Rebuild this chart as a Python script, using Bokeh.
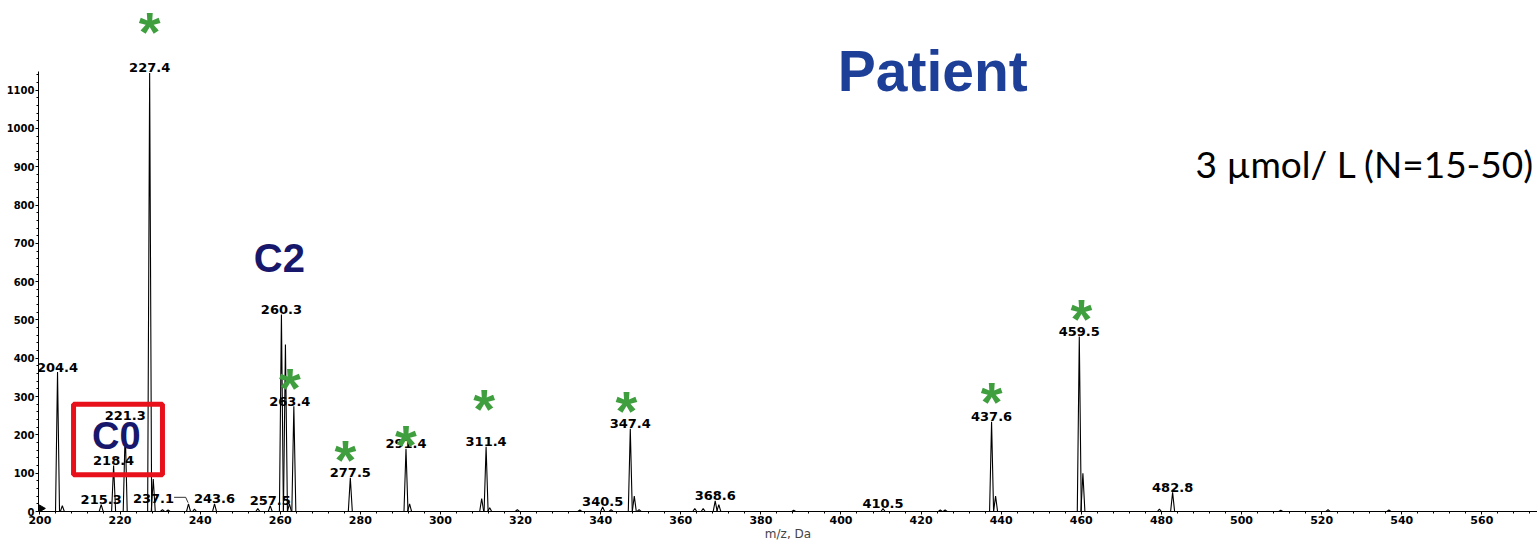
import numpy as np
from bokeh.plotting import figure
from bokeh.models import (ColumnDataSource, Label, BoxAnnotation, FixedTicker,
                          Range1d)
from bokeh.core.properties import value
from bokeh.embed import file_html
from bokeh.resources import INLINE

# ---------------- data ----------------
# centroid m/z of every visible peak and its intensity (axis tick = 100)
peak_mz = [204.4, 205.6, 215.3, 218.4, 221.3, 227.4, 228.3, 230.6, 232.0,
           237.1, 238.6, 243.6, 254.4, 257.5, 260.3, 261.3, 262.3, 263.4,
           277.5, 291.4, 292.3, 310.3, 311.4, 312.3, 319.2, 334.8, 340.5,
           342.6, 347.4, 348.4, 349.6, 363.5, 365.6, 368.6, 369.5, 388.2,
           410.5, 424.8, 426.0, 437.6, 438.6, 459.5, 460.4, 479.5, 482.8,
           509.8, 521.6, 536.8]
peak_int = [364, 15, 18, 120, 215, 1145, 85, 5, 4,
            20, 6, 20, 8, 15, 514, 436, 20, 275,
            88, 164, 20, 34, 169, 10, 5, 4, 12,
            5, 216, 40, 5, 8, 8, 28, 18, 3,
            8, 4, 4, 234, 40, 457, 100, 6, 50,
            3, 5, 4]

# peaks that carry an m/z label
labelled_mz = [204.4, 215.3, 218.4, 221.3, 227.4, 237.1, 243.6, 257.5, 260.3,
               263.4, 277.5, 291.4, 311.4, 340.5, 347.4, 368.6, 410.5, 437.6,
               459.5, 482.8]
# peaks marked with a green asterisk
starred_mz = [227.4, 263.4, 277.5, 291.4, 311.4, 347.4, 437.6, 459.5]

y_ticks = [0, 100, 200, 300, 400, 500, 600, 700, 800, 900, 1000, 1100]
x_ticks = [200, 220, 240, 260, 280, 300, 320, 340, 360, 380, 400, 420, 440,
           460, 480, 500, 520, 540, 560]

# ---------------- styling / layout ----------------
W, H = 1537, 543
X0, X1 = 199.65, 573.9
Y1 = 1334
HALF_W = 0.5                              # half base width of a peak (m/z)
label_dx = {237.1: -35, 263.4: -4}        # screen px shift of a label
label_dy = {221.3: -9}
star_gap = [50, 28, 27, 13, 47, 27, 29, 27]  # px from label to asterisk
star_dx = [0, -4, -5, 0, -2, -4, 0, 2]
GREEN = "#3f9f3f"
NAVY = "#17176b"
BLUE = "#1d3f98"

p = figure(width=W, height=H, output_backend="svg", toolbar_location=None,
           x_range=Range1d(X0, X1), y_range=Range1d(0, Y1),
           min_border_left=38, min_border_right=0, min_border_top=0,
           min_border_bottom=30)
p.outline_line_color = None
p.xgrid.visible = False
p.ygrid.visible = False
p.background_fill_color = "white"

# spectrum peaks
xs = [[m - HALF_W, m, m + HALF_W] for m in peak_mz]
ys = [[0, h, 0] for h in peak_int]
p.multi_line(xs=xs, ys=ys, line_color="black", line_width=1.1)

# peak labels
lookup = dict(zip(peak_mz, peak_int))
lab_src = ColumnDataSource(dict(
    x=labelled_mz,
    y=[lookup[m] for m in labelled_mz],
    t=[f"{m:.1f}" for m in labelled_mz],
    dx=[label_dx.get(m, 0) for m in labelled_mz],
    dy=[-5 + label_dy.get(m, 0) for m in labelled_mz],
))
p.text(x="x", y="y", text="t", x_offset="dx", y_offset="dy", source=lab_src,
       text_align="center", text_baseline="alphabetic",
       text_font=value("DejaVu Sans"), text_font_style="bold",
       text_font_size="13px", text_color="black")

# leader line of the 237.1 label
m = 237.1
h = lookup[m]
p.line(x=[m - 3.6, m - 0.7, m - 0.1], y=[h + 17, h + 17, h + 3],
       line_color="black", line_width=0.8)

# green asterisks
star_src = ColumnDataSource(dict(
    x=starred_mz,
    y=[lookup[m] for m in starred_mz],
    dy=[-22.4 - g for g in star_gap],
    dx=star_dx,
))
p.text(x="x", y="y", text=value("*"), x_offset="dx", y_offset="dy",
       source=star_src, text_align="center", text_baseline="top",
       text_font=value("Liberation Sans"), text_font_style="bold",
       text_font_size="56px", text_color=GREEN)

# origin marker
p.scatter(x=[X0 + 0.7], y=[8], marker="triangle", angle=-np.pi / 2,
          size=7, color="black")

# annotations
p.add_layout(BoxAnnotation(left=208.4, right=230.6, bottom=96, top=280,
                           fill_alpha=0, line_color="#e8101a", line_alpha=1,
                           line_width=5))
p.add_layout(Label(x=219.1, y=197, text="C0", text_align="center",
                   text_baseline="middle", text_font="Liberation Sans",
                   text_font_style="bold", text_font_size="38px",
                   text_color=NAVY))
p.add_layout(Label(x=259.8, y=662, text="C2", text_align="center",
                   text_baseline="middle", text_font="Liberation Sans",
                   text_font_style="bold", text_font_size="40px",
                   text_color=NAVY))
p.add_layout(Label(x=422.9, y=1150, text="Patient", text_align="center",
                   text_baseline="middle", text_font="Liberation Sans",
                   text_font_style="bold", text_font_size="57px",
                   text_color=BLUE))
p.add_layout(Label(x=488.5, y=909, text="3 µmol/ L (N=15-50)",
                   text_align="left", text_baseline="middle",
                   text_font="Lato", text_font_size="37px",
                   text_color="black"))

# axes
p.xaxis.ticker = FixedTicker(ticks=x_ticks,
                             minor_ticks=list(range(200, 574, 4)))
p.yaxis.ticker = FixedTicker(ticks=y_ticks,
                             minor_ticks=list(range(0, 1160, 20)))
p.yaxis.bounds = (0, 1148)
p.xaxis.axis_label = "m/z, Da"
p.xaxis.axis_label_text_font = "DejaVu Sans"
p.xaxis.axis_label_text_font_style = "normal"
p.xaxis.axis_label_text_font_size = "12px"
p.xaxis.axis_label_standoff = 0
for ax in (p.xaxis, p.yaxis):
    ax.axis_line_color = "black"
    ax.axis_line_width = 1
    ax.major_tick_line_color = "black"
    ax.minor_tick_line_color = "black"
    ax.major_tick_in = 0
    ax.minor_tick_in = 0
    ax.major_tick_out = 3
    ax.minor_tick_out = 2
    ax.major_label_text_font = "DejaVu Sans"
    ax.major_label_text_font_style = "bold"
    ax.major_label_text_font_size = "10px"
    ax.major_label_text_color = "black"
    ax.major_label_standoff = 1
p.xaxis.major_label_text_font_size = "11px"

open("out.html", "w").write(file_html(p, INLINE))
